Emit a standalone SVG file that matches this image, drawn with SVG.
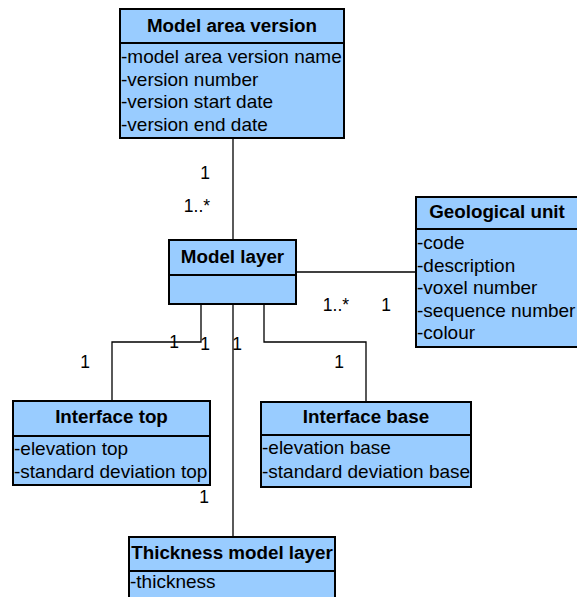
<svg xmlns="http://www.w3.org/2000/svg" width="577" height="597" viewBox="0 0 577 597">
<style>
.box{fill:#99ccff;stroke:#000;stroke-width:2}
.sep{stroke:#000;stroke-width:2}
.hd{font-family:"Liberation Sans",Arial,sans-serif;font-weight:bold;font-size:18.8px;text-anchor:middle;fill:#000}
.at{font-family:"Liberation Sans",Arial,sans-serif;font-size:19px;fill:#000}
.lb{font-family:"Liberation Sans",Arial,sans-serif;font-size:17.5px;text-anchor:middle;fill:#000}
.cn{fill:none;stroke:#000;stroke-width:1.3}
</style>
<rect width="577" height="597" fill="#fff"/>
<g id="connectors">
<line class="cn" x1="233" y1="138" x2="233" y2="240"/>
<line class="cn" x1="296" y1="272" x2="416" y2="272"/>
<polyline class="cn" points="201,304 201,342 112,342 112,401"/>
<line class="cn" x1="233" y1="304" x2="233" y2="537"/>
<polyline class="cn" points="264,304 264,342 366,342 366,402"/>
<text class="lb" x="205" y="179">1</text>
<text class="lb" x="197" y="212">1..*</text>
<text class="lb" x="336" y="311">1..*</text>
<text class="lb" x="386" y="311">1</text>
<text class="lb" x="174" y="348">1</text>
<text class="lb" x="205" y="350">1</text>
<text class="lb" x="237" y="350">1</text>
<text class="lb" x="85" y="368">1</text>
<text class="lb" x="339" y="368">1</text>
<text class="lb" x="204" y="503">1</text>
</g>
<g id="model-area-version">
<rect class="box" x="120" y="9" width="224" height="129"/>
<line class="sep" x1="120" y1="43" x2="344" y2="43"/>
<text class="hd" x="232" y="32">Model area version</text>
<text class="at" x="121" y="63">-model area version name</text>
<text class="at" x="121" y="85.5">-version number</text>
<text class="at" x="121" y="108">-version start date</text>
<text class="at" x="121" y="130.5">-version end date</text>
</g>
<g id="model-layer">
<rect class="box" x="169" y="240" width="127" height="64"/>
<line class="sep" x1="169" y1="275" x2="296" y2="275"/>
<text class="hd" x="232.5" y="263">Model layer</text>
</g>
<g id="geological-unit">
<rect class="box" x="416" y="197" width="170" height="150"/>
<line class="sep" x1="416" y1="229" x2="586" y2="229"/>
<text class="hd" x="497" y="218">Geological unit</text>
<text class="at" x="417" y="249">-code</text>
<text class="at" x="417" y="271.5">-description</text>
<text class="at" x="417" y="294">-voxel number</text>
<text class="at" x="417" y="316.5">-sequence number</text>
<text class="at" x="417" y="339">-colour</text>
</g>
<g id="interface-top">
<rect class="box" x="13" y="401" width="197" height="84"/>
<line class="sep" x1="13" y1="436" x2="210" y2="436"/>
<text class="hd" x="111.5" y="423">Interface top</text>
<text class="at" x="14" y="455">-elevation top</text>
<text class="at" x="14" y="478">-standard deviation top</text>
</g>
<g id="interface-base">
<rect class="box" x="261" y="402" width="210" height="85"/>
<line class="sep" x1="261" y1="435" x2="471" y2="435"/>
<text class="hd" x="366" y="423">Interface base</text>
<text class="at" x="262" y="454">-elevation base</text>
<text class="at" x="262" y="478">-standard deviation base</text>
</g>
<g id="thickness-model-layer">
<rect class="box" x="129" y="537" width="206" height="80"/>
<line class="sep" x1="129" y1="571" x2="335" y2="571"/>
<text class="hd" x="232" y="559">Thickness model layer</text>
<text class="at" x="130" y="588">-thickness</text>
</g>
</svg>
